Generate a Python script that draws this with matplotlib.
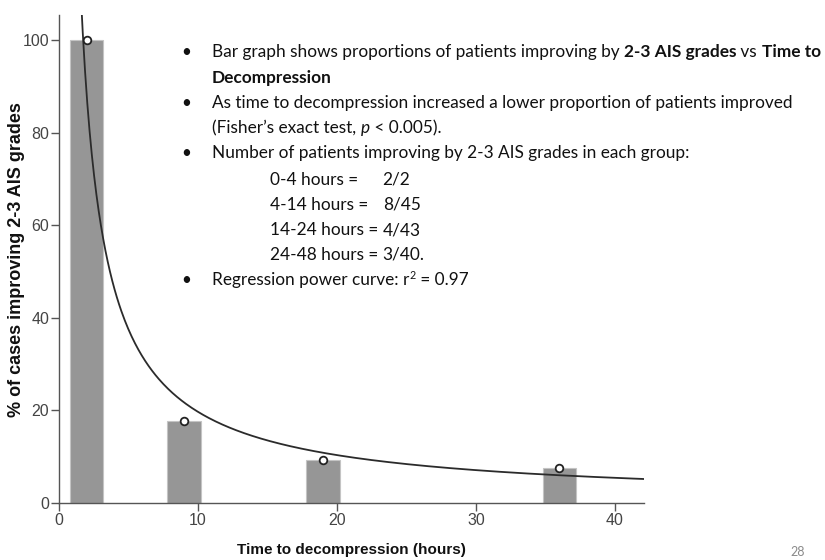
import numpy as np
import matplotlib
matplotlib.use("Agg")
import matplotlib.pyplot as plt

# data
groups = ["0-4 hours", "4-14 hours", "14-24 hours", "24-48 hours"]
group_mid = [2, 9, 19, 36]          # hours
improved = [2, 8, 4, 3]
totals = [2, 45, 43, 40]
pct = [100 * i / t for i, t in zip(improved, totals)]

W, H = 825, 560
fig = plt.figure(figsize=(W / 100, H / 100), dpi=100)
ax = fig.add_axes([59 / W, 57 / H, (644 - 59) / W, (503 - 15) / H])

tick_font = ["Liberation Sans Narrow", "Liberation Sans", "DejaVu Sans"]
lab_font = ["Liberation Sans", "DejaVu Sans"]

ax.bar(group_mid, pct, width=2.4, color="#969696", edgecolor="#c4c4c4",
       linewidth=0.8, zorder=2)

# regression power curve y = a * x^b (log-log least squares)
b, loga = np.polyfit(np.log(group_mid), np.log(pct), 1)
xs = np.linspace(1.3, 42.1, 500)
ax.plot(xs, np.exp(loga) * xs ** b, color="#2b2b2b", lw=1.3, zorder=3)

ax.plot(group_mid, pct, "o", ms=5.5, mfc="white", mec="#222222", mew=1.3,
        zorder=4, clip_on=False)

ax.set_xlim(0, 42.1)
ax.set_ylim(0, 105.4)
ax.set_xticks([0, 10, 20, 30, 40])
ax.set_yticks([0, 20, 40, 60, 80, 100])
for s in ["top", "right"]:
    ax.spines[s].set_visible(False)
for s in ["left", "bottom"]:
    ax.spines[s].set_color("#555555")
    ax.spines[s].set_linewidth(1.0)
ax.tick_params(length=6, width=1.0, color="#555555", labelcolor="#444444",
               pad=1, labelsize=11.5)
for lab in ax.get_xticklabels() + ax.get_yticklabels():
    lab.set_family(tick_font)

ax.set_xlabel("Time to decompression (hours)", fontsize=11, weight="bold",
              family=lab_font, color="#111111", va="center")
ax.set_ylabel("% of cases improving 2-3 AIS grades", fontsize=13,
              weight="bold", family=lab_font, color="#111111", va="center")
ax.xaxis.set_label_coords(0.5, (503 - 550) / 488)
ax.yaxis.set_label_coords((17 - 59) / 585, (503 - 260) / 488)

# slide text block
body_font = ["Lato", "DejaVu Sans"]
fs = 12.4
renderer = fig.canvas.get_renderer()


def run_width(s, size=fs, **kw):
    t1 = fig.text(0, 0, "|" + s + "|", fontsize=size, family=body_font, **kw)
    t2 = fig.text(0, 0, "||", fontsize=size, family=body_font, **kw)
    w = (t1.get_window_extent(renderer).width
         - t2.get_window_extent(renderer).width)
    t1.remove()
    t2.remove()
    return w


def draw_runs(x_px, y_px, runs):
    x = x_px
    for s, kw in runs:
        fig.text(x / W, 1 - y_px / H, s, fontsize=fs, family=body_font,
                 va="baseline", ha="left", color="#111111", **kw)
        x += run_width(s, **kw)
    return x


def bullet(y_px):
    fig.text(bullet_x / W, 1 - y_px / H, "\u2022", fontsize=fs,
             family=body_font, va="baseline", ha="center", color="#111111")


N = {}
B = {"weight": "bold"}
I = {"style": "italic"}

bullet_x, text_x, indent_x = 186, 212, 270
lines = [
    (True, 57, [("Bar graph shows proportions of patients improving by ", N),
                ("2-3 AIS grades", B), (" vs ", N), ("Time to", B)]),
    (False, 83, [("Decompression", B)]),
    (True, 108, [("As time to decompression increased a lower proportion "
                  "of patients improved", N)]),
    (False, 133, [("(Fisher\u2019s exact test, ", N), ("p", I),
                  (" < 0.005).", N)]),
    (True, 158, [("Number of patients improving by 2-3 AIS grades in each "
                  "group:", N)]),
]
for has_bullet, y, runs in lines:
    if has_bullet:
        bullet(y)
    draw_runs(text_x, y, runs)

# group counts: labels, then one aligned column of values
value_x = max(380, max(indent_x + run_width(g + " = ") for g in groups))
for k, (g, i, t) in enumerate(zip(groups, improved, totals)):
    y = 185 + 25 * k
    fig.text(indent_x / W, 1 - y / H, g + " =", fontsize=fs,
             family=body_font, va="baseline", color="#111111")
    end = "." if k == len(groups) - 1 else ""
    fig.text(value_x / W, 1 - y / H, f"{i}/{t}{end}", fontsize=fs,
             family=body_font, va="baseline", color="#111111")

bullet(285)
x_r = draw_runs(text_x, 285, [("Regression power curve: r", N)])
sup = fs * 0.62
fig.text((x_r + 0.5) / W, 1 - 279 / H, "2", fontsize=sup, family=body_font,
         va="baseline", color="#111111")
draw_runs(x_r + 0.5 + run_width("2", size=sup), 285, [(" = 0.97", N)])

fig.text(790 / W, 1 - 556 / H, "28", fontsize=9, family=body_font,
         color="#8a8a8a", va="baseline")

fig.savefig("out.png", dpi=100)
